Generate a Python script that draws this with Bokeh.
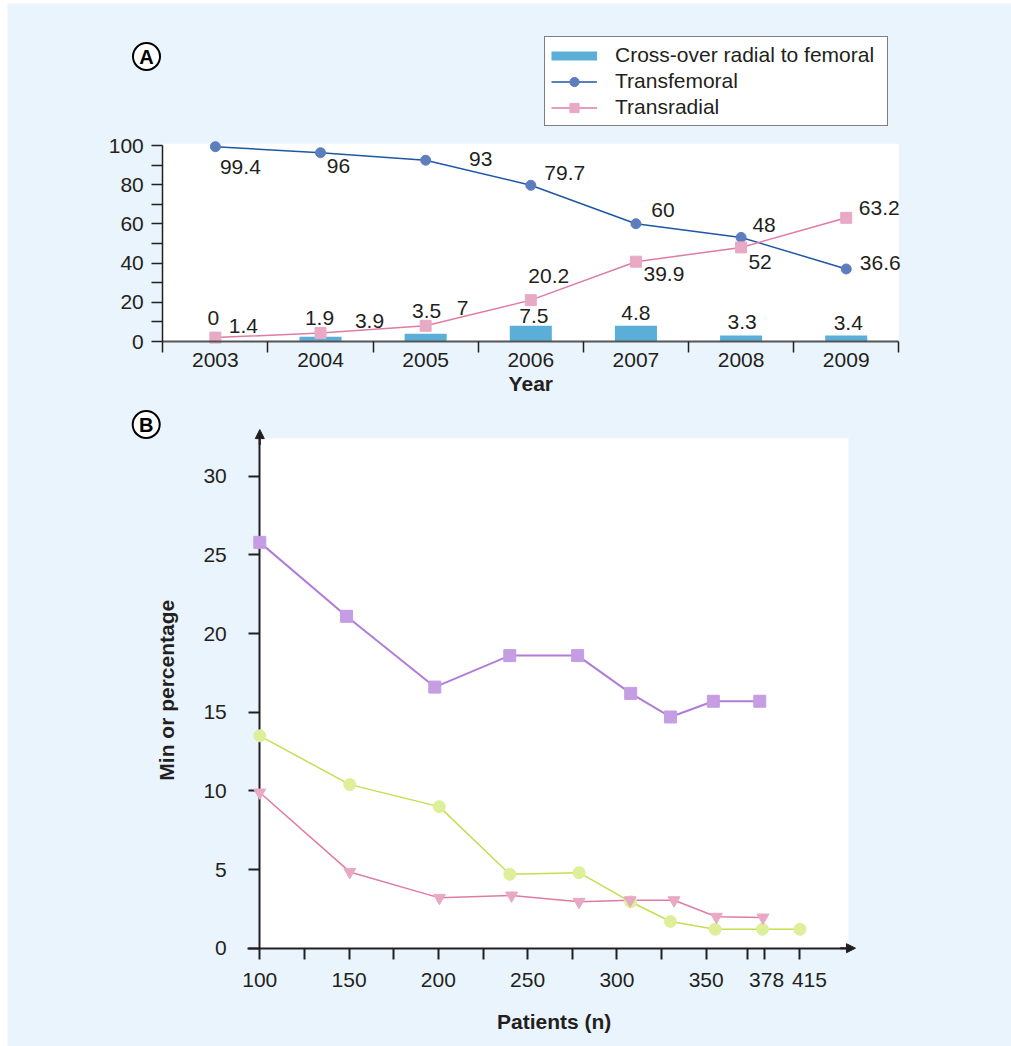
import math
from bokeh.plotting import figure
from bokeh.models import (Range1d, FixedTicker, Legend, LegendItem, ColumnDataSource,
                          LinearAxis, Arrow, NormalHead)
from bokeh.core.properties import value
from bokeh.embed import file_html
from bokeh.resources import INLINE

BG = "#EAF4FC"
FONT = "Liberation Sans"
TXT = "#231F20"

# ---------------- Panel A data ----------------
years = ["2003", "2004", "2005", "2006", "2007", "2008", "2009"]
crossover = [0, 2.4, 4.0, 8.0, 8.0, 3.0, 3.0]
crossover_labels = ["0", "1.9", "3.5", "7.5", "4.8", "3.3", "3.4"]
transfemoral = [99.4, 96.3, 92.5, 79.7, 60.1, 53.1, 37.0]
transfemoral_labels = ["99.4", "96", "93", "79.7", "60", "48", "36.6"]
transradial = [2.0, 4.3, 8.0, 21.1, 40.7, 48.0, 63.1]
transradial_labels = ["1.4", "3.9", "7", "20.2", "39.9", "52", "63.2"]
a_yticks = [0, 20, 40, 60, 80, 100]
a_yminor = [10, 30, 50, 70, 90]

# label offsets (screen px) relative to their point
cross_dx = [-2, -1, 1, 3, 0, 1, 2]
cross_dy = [-24, -19, -23, -10, -13, -14, -13]
fem_dx = [25, 18, 55, 34, 27, 23, 34]
fem_dy = [20, 13, -1, -12, -14, -12, -6]
rad_dx = [28, 49, 37, 18, 28, 19, 33]
rad_dy = [-12, -12, -18, -24, 12, 15, -10]

# ---------------- Panel B data ----------------
purple_x = [100, 148.6, 198, 240, 278, 307.7, 330, 354, 380]
purple_y = [25.8, 21.1, 16.6, 18.6, 18.6, 16.2, 14.7, 15.7, 15.7]
green_x = [100, 150.4, 200.5, 240, 278.8, 307.7, 330, 355, 381.5, 402.5]
green_y = [13.5, 10.4, 9.0, 4.7, 4.8, 2.95, 1.7, 1.2, 1.2, 1.2]
pink_x = [100, 150.4, 200.6, 241, 278.8, 307.4, 332, 355.7, 381.8]
pink_y = [9.9, 4.85, 3.2, 3.35, 2.95, 3.05, 3.05, 2.0, 1.95]

b_label_pos = [100, 150, 200, 250, 300, 350, 383.8, 407.8]
b_tick_labels = ["100", "150", "200", "250", "300", "350", "378", "415"]
b_tick_marks = [100, 125, 150, 175, 200, 225, 250, 275, 300, 325, 350, 373.1, 382.8, 402.5]
b_yticks = [0, 5, 10, 15, 20, 25, 30]

BAR_C = "#5AAED8"
FEM_LINE = "#1E57A5"
FEM_PT = "#5C7DBE"
RAD_LINE = "#E07AA6"
RAD_PT = "#E8A9C5"
PUR_LINE = "#B07CD8"
PUR_PT = "#C59DE3"
GRN_LINE = "#C5DD52"
GRN_PT = "#DEEF9A"

# ---------------- page geometry (px) ----------------
W, H = 1011, 1046
FL, FT = 7, 3                       # frame left / top on the page
A_X0, A_X7 = 162.3, 898.3           # category edges 0 and 7
A_Y0, A_Y100 = 341.0, 145.0
A_TOP = 100.87                      # top of white plot area (data)
B_X100, B_PXU = 259.3, 1.7856
B_Y0, B_PYU = 947.7, 15.73
B_XMAX, B_YMAX = 429.7, 32.42       # white plot area extent (data)

a_pxu = (A_X7 - A_X0) / 7
a_pyu = (A_Y0 - A_Y100) / 100
a_xr = Range1d(-(A_X0 - FL) / a_pxu, (W - A_X0) / a_pxu)
a_yr = Range1d(-(H - A_Y0) / a_pyu, (A_Y0 - FT) / a_pyu)
b_xr = Range1d(100 - (B_X100 - FL) / B_PXU, 100 + (W - B_X100) / B_PXU)
b_yr = Range1d(-(H - B_Y0) / B_PYU, (B_Y0 - FT) / B_PYU)

p = figure(width=W, height=H, x_range=Range1d(FL, W), y_range=Range1d(H, FT),
           x_axis_type=None, y_axis_type=None, title=None,
           output_backend="svg", toolbar_location=None,
           min_border_left=FL, min_border_top=FT, min_border_right=0, min_border_bottom=0)
p.background_fill_color = BG
p.border_fill_color = "white"
p.outline_line_color = None
p.extra_x_ranges = {"ax": a_xr, "bx": b_xr}
p.extra_y_ranges = {"ay": a_yr, "by": b_yr}

A = dict(x_range_name="ax", y_range_name="ay")
B = dict(x_range_name="bx", y_range_name="by")


def style_axis(ax, lw, color=TXT):
    ax.axis_line_color = color
    ax.axis_line_width = lw
    ax.major_tick_line_color = TXT
    ax.minor_tick_line_color = TXT
    ax.major_tick_line_width = lw
    ax.minor_tick_line_width = lw
    ax.major_tick_in = 0
    ax.minor_tick_in = 0
    ax.major_label_text_font = FONT
    ax.major_label_text_font_size = "21px"
    ax.major_label_text_color = TXT


# ================= Panel A =================
p.quad(left=[0], right=[7], bottom=[0], top=[A_TOP], fill_color="white", line_color=None, **A)

xs = [i + 0.5 for i in range(len(years))]
p.vbar(x=xs, top=crossover, width=0.4, fill_color=BAR_C, line_color=None, **A)
fl = p.line(xs, transfemoral, line_color=FEM_LINE, line_width=1.5, **A)
fp = p.scatter(xs, transfemoral, marker="circle", size=10, fill_color=FEM_PT, line_color=FEM_PT, **A)
rl = p.line(xs, transradial, line_color=RAD_LINE, line_width=1.5, **A)
rp = p.scatter(xs, transradial, marker="square", size=11, fill_color=RAD_PT, line_color=RAD_PT, **A)

lab_src = ColumnDataSource(dict(
    x=xs * 3,
    y=crossover + transfemoral + transradial,
    text=crossover_labels + transfemoral_labels + transradial_labels,
    dx=cross_dx + fem_dx + rad_dx,
    dy=cross_dy + fem_dy + rad_dy,
))
p.text(x="x", y="y", text="text", x_offset="dx", y_offset="dy", source=lab_src,
       text_align="center", text_baseline="middle", text_font=value(FONT),
       text_font_size="21px", text_color=TXT, **A)

xa = LinearAxis(fixed_location=0, bounds=(0, 7), **A)
xa.ticker = FixedTicker(ticks=xs, minor_ticks=list(range(len(years) + 1)))
xa.major_label_overrides = {x: y for x, y in zip(xs, years)}
style_axis(xa, 2, "#555555")
xa.minor_tick_line_width = 1.5
xa.major_tick_out = 0
xa.minor_tick_out = 11
xa.major_label_standoff = 0
p.add_layout(xa, "below")

ya = LinearAxis(fixed_location=0, bounds=(0, 100), **A)
ya.ticker = FixedTicker(ticks=a_yticks, minor_ticks=a_yminor)
style_axis(ya, 1.5)
ya.major_tick_out = 11
ya.minor_tick_out = 11
ya.major_label_standoff = 8
p.add_layout(ya, "left")

p.text(x=[3.5], y=[0], text=["Year"], y_offset=42, text_align="center", text_baseline="middle",
       text_font=value(FONT), text_font_size="21px", text_font_style="bold", text_color=TXT, **A)

# legend swatch for the bars (a thick line with no visible points)
bar_swatch = p.line([math.nan, math.nan], [math.nan, math.nan], line_color=BAR_C, line_width=9, **A)
legend = Legend(items=[
    LegendItem(label="Cross-over radial to femoral", renderers=[bar_swatch]),
    LegendItem(label="Transfemoral", renderers=[fl, fp]),
    LegendItem(label="Transradial", renderers=[rl, rp]),
], location=(544 - FL, H - 126), orientation="vertical")
legend.border_line_color = "black"
legend.border_line_width = 1
legend.background_fill_color = "white"
legend.background_fill_alpha = 1
legend.label_text_font = FONT
legend.label_text_font_size = "21px"
legend.label_text_color = TXT
legend.glyph_width = 46
legend.glyph_height = 23
legend.label_height = 23
legend.label_width = 266
legend.spacing = 2
legend.padding = 6
legend.label_standoff = 18
legend.margin = 0
p.add_layout(legend)

# ================= Panel B =================
p.quad(left=[100], right=[B_XMAX], bottom=[0], top=[B_YMAX], fill_color="white", line_color=None, **B)

p.line(purple_x, purple_y, line_color=PUR_LINE, line_width=2, **B)
p.line(green_x, green_y, line_color=GRN_LINE, line_width=1.5, **B)
p.line(pink_x, pink_y, line_color=RAD_LINE, line_width=1.5, **B)
p.scatter(purple_x, purple_y, marker="square", size=12, fill_color=PUR_PT, line_color=PUR_PT,
          level="overlay", **B)
p.scatter(green_x, green_y, marker="circle", size=12, fill_color=GRN_PT, line_color=GRN_PT,
          level="overlay", **B)
p.scatter(pink_x, pink_y, marker="inverted_triangle", size=12, fill_color=RAD_PT, line_color=RAD_PT,
          level="overlay", **B)

xb = LinearAxis(fixed_location=0, bounds=(93.1, 430), **B)
xb.ticker = FixedTicker(ticks=b_label_pos, minor_ticks=b_tick_marks)
xb.major_label_overrides = {t: l for t, l in zip(b_label_pos, b_tick_labels)}
style_axis(xb, 2)
xb.major_tick_out = 0
xb.minor_tick_out = 11
xb.major_label_standoff = 14
p.add_layout(xb, "below")

yb = LinearAxis(fixed_location=100, bounds=(0, 32.6), **B)
yb.ticker = FixedTicker(ticks=b_yticks, minor_ticks=[])
style_axis(yb, 2)
yb.major_tick_out = 11
yb.minor_tick_out = 0
yb.major_label_standoff = 22
p.add_layout(yb, "left")

p.add_layout(Arrow(x_start=100, y_start=32.0, x_end=100, y_end=32.97, line_color=TXT, line_width=2,
                   end=NormalHead(size=9, fill_color=TXT, line_color=TXT), **B))
p.add_layout(Arrow(x_start=425, y_start=0, x_end=433.6, y_end=0, line_color=TXT, line_width=2,
                   end=NormalHead(size=9, fill_color=TXT, line_color=TXT), **B))

p.text(x=[(100 + B_XMAX) / 2], y=[0], text=["Patients (n)"], y_offset=73, text_align="center",
       text_baseline="middle", text_font=value(FONT), text_font_size="21px",
       text_font_style="bold", text_color=TXT, **B)
p.text(x=[100], y=[16.4], text=["Min or percentage"], x_offset=-93, angle=math.pi / 2,
       text_align="center", text_baseline="middle", text_font=value(FONT), text_font_size="21px",
       text_font_style="bold", text_color=TXT, **B)

# ================= panel badges (page px) =================
badge_x = [146, 145.7]
badge_y = [56, 424]
p.scatter(badge_x, badge_y, marker="circle", size=27, fill_color="white", line_color="black",
          line_width=2)
p.text(x=badge_x, y=badge_y, text=["A", "B"], text_align="center", text_baseline="middle",
       text_font=value(FONT), text_font_size="20px", text_font_style="bold", text_color="black")

open("out.html", "w").write(file_html(p, INLINE))
